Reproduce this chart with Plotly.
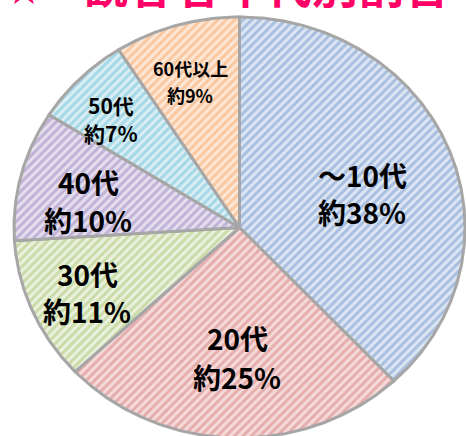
import numpy as np
import plotly.graph_objects as go

# ---- data ----
title_text = "観客者年代別割合"
categories = ["～10代", "20代", "30代", "40代", "50代", "60代以上"]
values = [38, 25, 11, 10, 7, 9]

# ---- styles ----
fg_colors = ["#7396CC", "#D47F7D", "#A9C673", "#9C84BD", "#6EC2D8", "#F6A96B"]
bg_colors = ["#DCE6F3", "#F5DAD9", "#EBF1DD", "#E4DEEE", "#DAEEF4", "#FDE7D6"]
label_sizes = [28, 28, 28, 28, 21, 18]
label_pos = [(362, 193), (237, 357), (87, 292), (88, 201), (111, 119), (190, 81)]
line_gap = [37, 39, 37, 38, 28, 27]

W, H = 466, 436
cx, cy, rx, ry = 239.5, 227.5, 225.5, 210.5
FONT = "Noto Sans CJK JP"

fig = go.Figure()
total = float(sum(values))
cum = np.concatenate([[0.0], np.cumsum(values)]) / total

for i, cat in enumerate(categories):
    n = max(int(values[i] * 8), 4)
    t = np.linspace(cum[i], cum[i + 1], n) * 2 * np.pi
    xs = np.concatenate([[cx], cx + rx * np.sin(t), [cx]])
    ys = np.concatenate([[cy], cy - ry * np.cos(t), [cy]])
    fig.add_trace(go.Scatter(
        x=xs, y=ys, mode="lines", fill="toself",
        fillcolor=bg_colors[i],
        fillpattern=dict(shape="/", fgcolor=fg_colors[i], bgcolor=bg_colors[i],
                         size=6, solidity=0.5),
        line=dict(color="#A6A6A6", width=3),
        hoverinfo="skip", showlegend=False,
    ))

for i, cat in enumerate(categories):
    px, py = label_pos[i]
    g = line_gap[i] / 2
    for txt, yy in ((cat, py - g), (f"約{values[i]}%", py + g)):
        fig.add_annotation(
            x=px, y=yy, xref="x", yref="y", text=txt, showarrow=False,
            font=dict(family=FONT, size=label_sizes[i], color="#000000", weight="bold"),
            xanchor="center", yanchor="middle",
        )

# title (cut off at top in the reference)
fig.add_annotation(x=24 / W, y=1 + 12 / H, xref="paper", yref="paper", text="★",
                   showarrow=False, xanchor="center", yanchor="middle",
                   font=dict(family=FONT, size=34, color="#FF0066", weight="bold"))
fig.add_annotation(x=80 / W, y=1 + 17 / H, xref="paper", yref="paper", text=title_text,
                   showarrow=False, xanchor="left", yanchor="middle",
                   font=dict(family=FONT, size=46, color="#FF0066", weight="bold"))

fig.update_layout(
    width=W, height=H, margin=dict(l=0, r=0, t=0, b=0),
    paper_bgcolor="white", plot_bgcolor="white",
    xaxis=dict(range=[0, W], visible=False, fixedrange=True),
    yaxis=dict(range=[H, 0], visible=False, fixedrange=True),
    showlegend=False,
)

fig.write_html("out.html", config={"displayModeBar": False},
               post_script="document.body.style.margin='0';")
